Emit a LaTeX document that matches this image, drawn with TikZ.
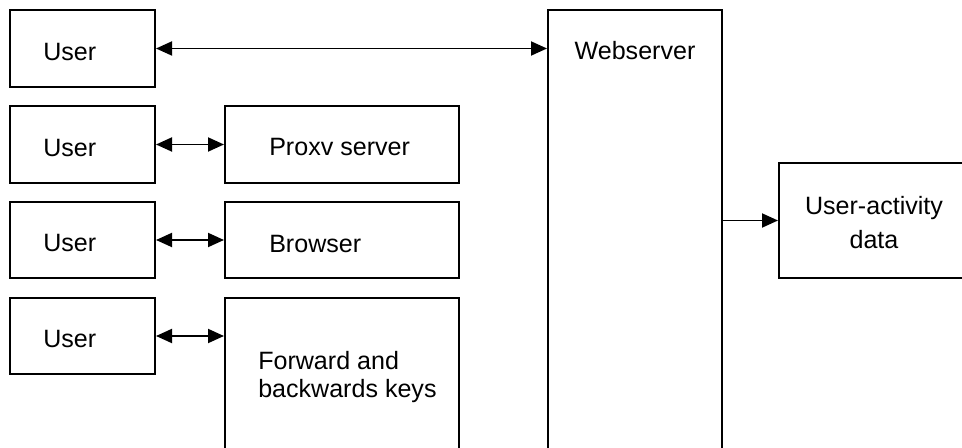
\documentclass[tikz,border=0pt]{standalone}
\usepackage{fontspec}
\setmainfont{Liberation Sans}
\usetikzlibrary{positioning}
\usetikzlibrary{arrows.meta}

\begin{document}
\begin{tikzpicture}[x=0.75pt,y=-0.75pt,
box/.style={rectangle,draw,line width=1.5pt,anchor=north west,inner sep=0},
boxsize/.style 2 args={minimum width=#1*0.75pt,minimum height=#2*0.75pt},
boxtxt/.style={inner sep=0,font=\fontsize{18.8pt}{21pt}\selectfont},
link/.style={line width=1.4pt,{Triangle[length=12pt,width=10.5pt]}-{Triangle[length=12pt,width=10.5pt]}},
feed/.style={line width=1.4pt,-{Triangle[length=12pt,width=10.5pt]}}]
\useasboundingbox (0,0) rectangle (962,448);
\clip (0,0) rectangle (962,448);

% users on the left
\node [box,boxsize={145}{77}] (user1) at (9,9) {};
\node [box,boxsize={145}{77}] (user2) at (9,105) {};
\node [box,boxsize={145}{76}] (user3) at (9,201) {};
\node [box,boxsize={145}{76}] (user4) at (9,297) {};
\foreach \i in {1,...,4}
    \node [boxtxt,anchor=base west] (user\i-txt) at ([shift={(34,12)}]user\i.west) {User};

% middle column
\node [box,boxsize={234}{77}] (proxy) at (224,105) {};
\node [boxtxt,anchor=base west] (proxy-txt) at ([shift={(45,11.5)}]proxy.west) {Proxv server};
\node [box,boxsize={234}{76}] (browser) at (224,201) {};
\node [boxtxt,anchor=base west] (browser-txt) at ([shift={(45,13)}]browser.west) {Browser};
\node [box,boxsize={234}{200}] (keys) at (224,297) {};
\node [boxtxt,anchor=west,align=left] (keys-txt) at ([shift={(34,80)}]keys.north west) {Forward and\\backwards keys};

% server and log
\node [box,boxsize={174}{500}] (web) at (547,9) {};
\node [boxtxt,anchor=base] (web-txt) at ([shift={(0,51)}]web.north) {Webserver};
\node [box,boxsize={250}{115}] (activity) at (778,162) {};
\node [boxtxt,align=center,font=\fontsize{18.8pt}{25.5pt}\selectfont] (activity-txt) at ([shift={(96,2)}]activity.west) {User-activity\\data};

\draw [link] (user1.east) -- (user1.east -| web.west);
\draw [link] (user2.east) -- (proxy.west);
\draw [link] (user3.east) -- (browser.west);
\draw [link] (user4.east) -- (user4.east -| keys.west);
\draw [feed] (activity.west -| web.east) -- (activity.west);
\end{tikzpicture}
\end{document}
